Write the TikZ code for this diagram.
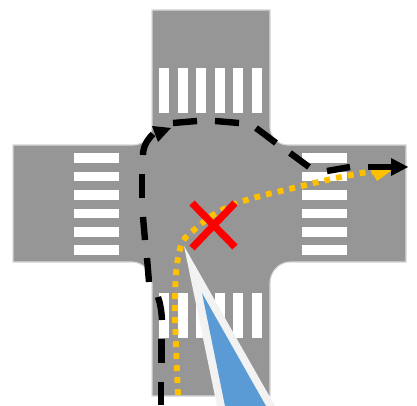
\documentclass[tikz,border=0pt]{standalone}
\definecolor{roadgray}{HTML}{969696}
\definecolor{roadedge}{HTML}{D9D9D9}
\definecolor{pathorange}{HTML}{FFC000}
\definecolor{viewblue}{HTML}{5B9BD5}
\definecolor{viewlight}{HTML}{F2F2F2}
\tikzset{
  crossbar/.style={fill=white, draw=none},
  blackdash/.style={line width=4.8pt, black},
  orangedot/.style={line width=4.4pt, pathorange, dash pattern=on 4.4pt off 4.6pt},
  redcross/.style={line width=5.4pt, red}
}
\begin{document}
\begin{tikzpicture}[x=0.75pt, y=-0.75pt]
    \useasboundingbox (0,0) rectangle (417,406);

    % Road surface
    \draw[fill=roadgray, draw=roadedge, line width=0.8pt]
        (152,10) -- (270,10) -- (270,127)
        .. controls (270,137) and (278,145) .. (288,145) -- (406,145) -- (406,262) -- (290,262)
        .. controls (279,262) and (270,272) .. (270,283) -- (270,396) -- (152,396) -- (152,283)
        .. controls (152,272) and (143,262) .. (132,262) -- (13,262) -- (13,145) -- (133,145)
        .. controls (143,145) and (152,137) .. (152,127) -- cycle;

    % Crossing bars, top and bottom
    \foreach \x in {159,178,196,215,233,252} {
        \fill[crossbar] (\x,68) rectangle (\x+9.5,113);
        \fill[crossbar] (\x,293) rectangle (\x+9.5,338);
    }
    % Crossing bars, left and right
    \foreach \y in {153,171.5,190,208.5,227,245} {
        \fill[crossbar] (74,\y) rectangle (119,\y+9.5);
        \fill[crossbar] (302,\y) rectangle (347,\y+9.5);
    }

    % View cone
    \fill[viewlight] (184,246) -- (275,406) -- (217,406) -- cycle;
    \fill[viewblue] (202,293) -- (266,406) -- (225,406) -- cycle;

    % Orange path
    \draw[orangedot] plot[smooth, tension=0.6] coordinates {(178,395) (175.5,333) (175,309) (176,273)
        (180,249) (185,238) (194,230) (213,215) (235,204) (257,197) (281,191) (327,180) (362,173) (380,171)};
    \fill[pathorange] (392,170) -- (368,165) -- (377,181) -- cycle;

    % Red cross
    \draw[redcross] (192,203) -- (235,247);
    \draw[redcross] (235,203) -- (192,248);

    % Black path, first part
    \draw[blackdash] (161,405) -- (161,382);
    \draw[blackdash] (161.5,363) -- (161.5,339);
    \draw[blackdash] (162,320) .. controls (161.5,312) and (160.5,304) .. (158,297);
    \draw[blackdash] (149,282) -- (147,258);
    \draw[blackdash] (145,240) -- (143,217);
    \draw[blackdash] (142,198) -- (142,174);
    \draw[blackdash] (143,155) .. controls (143,147) and (147,140) .. (153,134);
    \fill[black] (152,126) -- (171,128) -- (158,142) -- cycle;

    % Black path, second part
    \draw[blackdash] (173,123) -- (197,121);
    \draw[blackdash] (215,121) -- (239,123);
    \draw[blackdash] (256,128) -- (276,143);
    \draw[blackdash] (290,153) -- (309,167);
    \draw[blackdash] (327,171) -- (350,167);
    \draw[blackdash] (368,167) -- (392,167);
    \fill[black] (408,167) -- (391,158) -- (391,176) -- cycle;
\end{tikzpicture}
\end{document}
